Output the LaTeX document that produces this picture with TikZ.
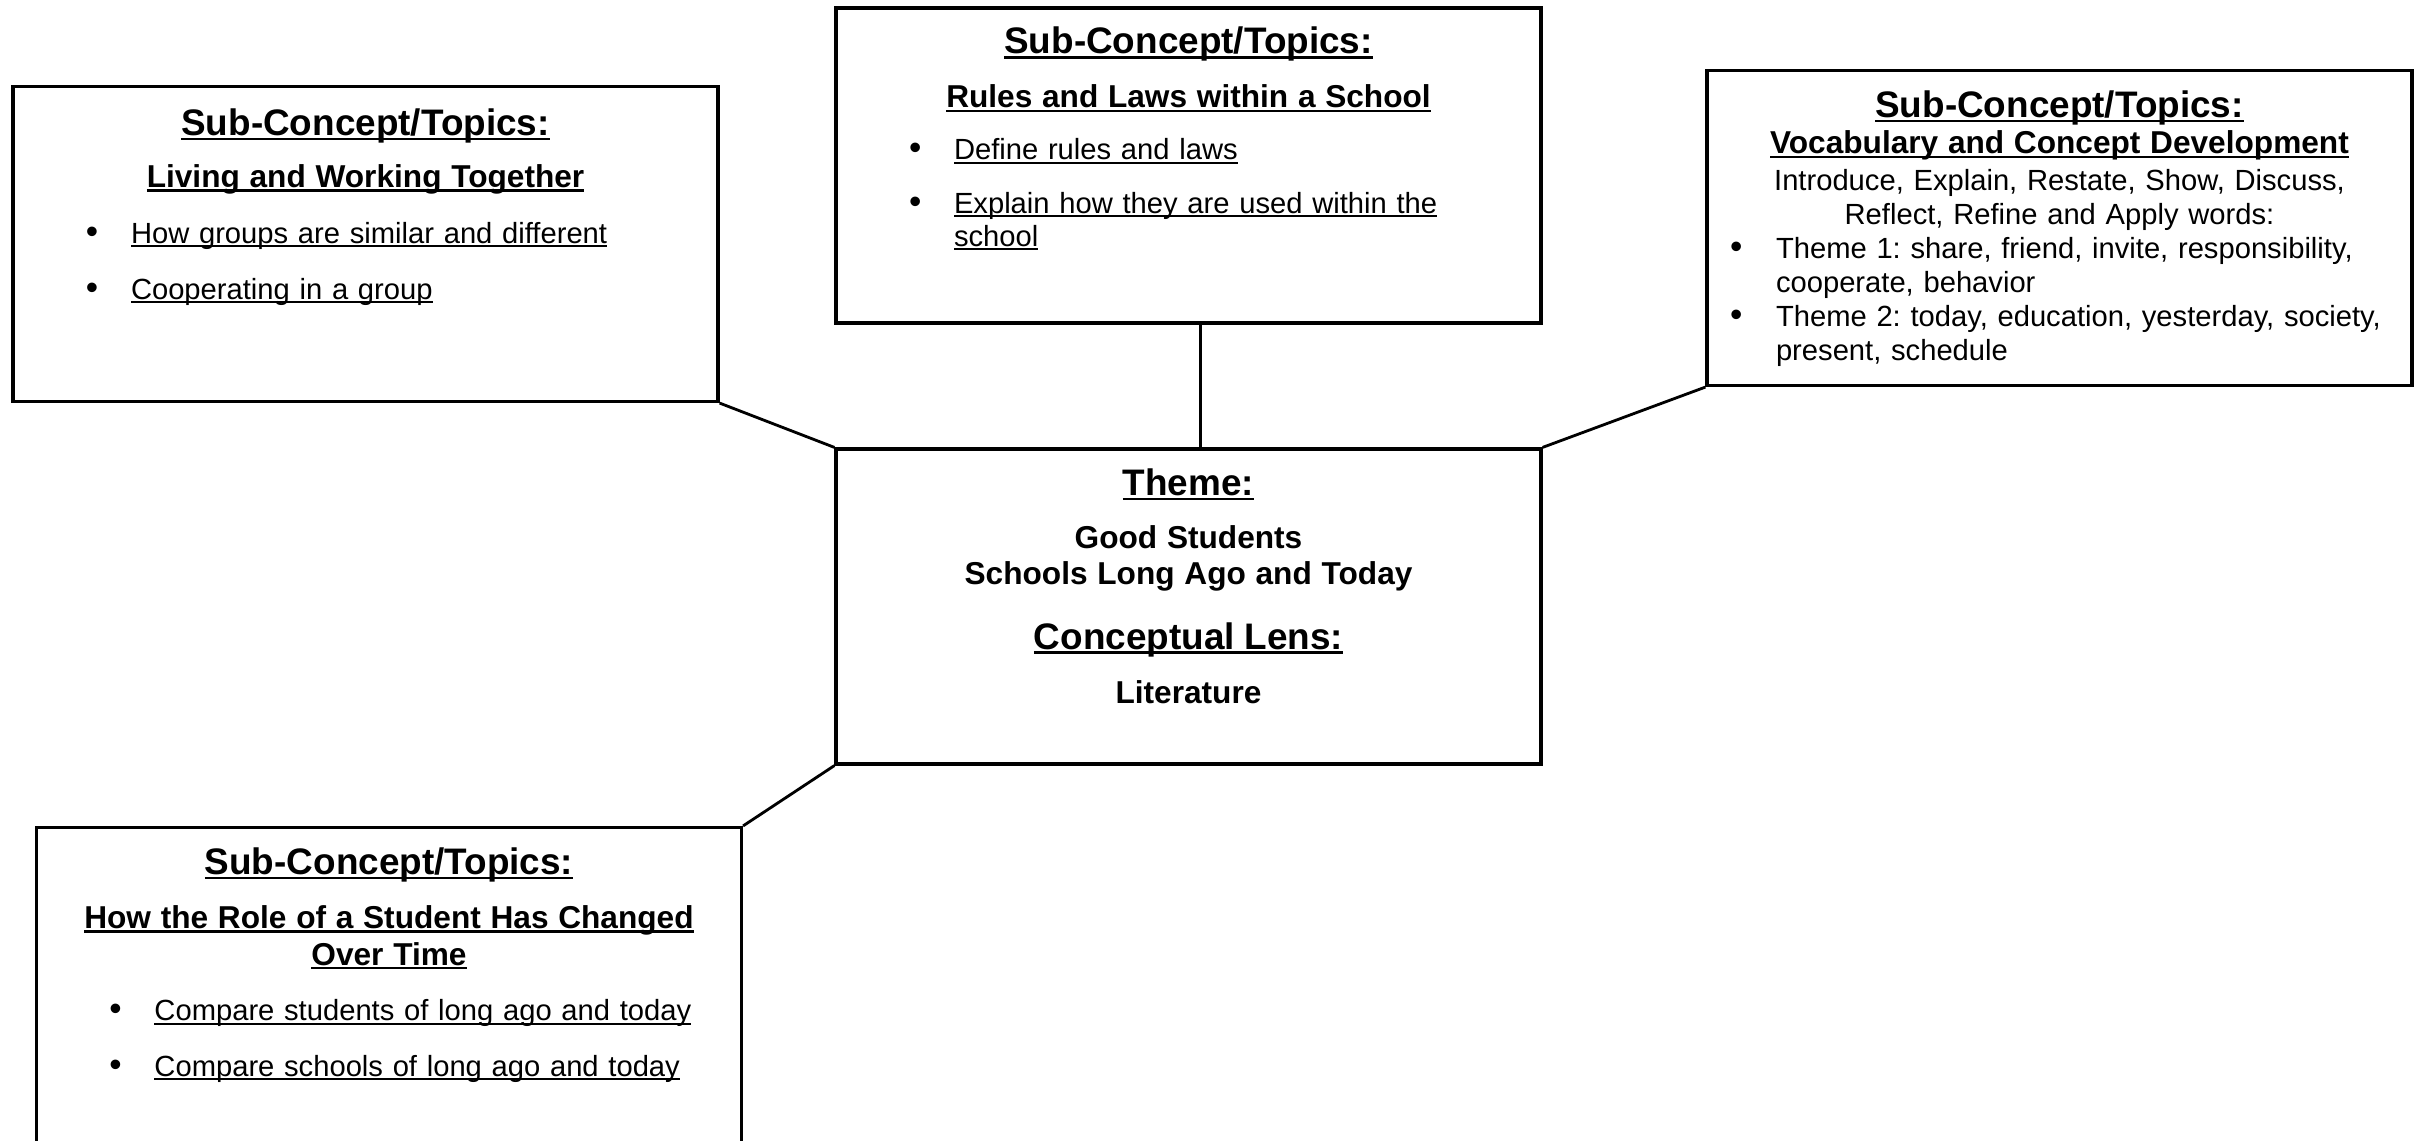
\documentclass[tikz,border=0pt]{standalone}
\usepackage{fontspec}
\setmainfont{Liberation Sans}
\usetikzlibrary{positioning}

\frenchspacing
\setlength{\lineskiplimit}{-20pt}
\def\boxwd{7.05cm}
\newsavebox{\topicbox}
\newcommand{\topicul}[1]{\leavevmode\sbox{\topicbox}{#1}\rlap{\rule[-0.13em]{\wd\topicbox}{0.07em}}\usebox{\topicbox}}
\newcommand{\topichead}[1]{{\fontsize{10.5}{9.3}\selectfont\bfseries\rule{0pt}{8pt}\topicul{#1}}}
\newcommand{\topicsub}[1]{{\fontsize{9}{9.3}\selectfont\bfseries\topicul{#1}}}
\newcommand{\topicbold}[1]{{\fontsize{9}{9.3}\selectfont\bfseries #1}}
\newcommand{\topicdot}{{\fontsize{10}{9.3}\selectfont\textbullet}}
\newcommand{\topicitem}[1]{\makebox[\boxwd][l]{\hspace{0.73cm}\makebox[0.45cm][l]{\topicdot}\topicul{#1}}}
\newcommand{\topiccont}[1]{\makebox[\boxwd][l]{\hspace{1.18cm}\topicul{#1}}}
\newcommand{\vocabitem}[1]{\makebox[\boxwd][l]{\hspace{0.23cm}\makebox[0.46cm][l]{\topicdot}#1}}
\newcommand{\vocabcont}[1]{\makebox[\boxwd][l]{\hspace{0.69cm}#1}}

\begin{document}
\begin{tikzpicture}[
        topic/.style={rectangle, draw, line width=0.9pt, minimum width=7.05cm, minimum height=3.15cm, inner sep=0pt},
        topictext/.style={text width=7.05cm, align=center, inner sep=0pt, font=\fontsize{8.3}{9.3}\selectfont},
        link/.style={line width=0.8pt}
    ]
\useasboundingbox (0,0) rectangle (24.24,-11.41);

% Boxes
        \node[topic] (living) at (3.655,-2.44) {};
        \node[topic] (rules) at (11.885,-1.655) {};
        \node[topic] (vocab) at (20.595,-2.28) {};
        \node[topic] (theme) at (11.885,-6.065) {};
        \node[topic, minimum height=3.2cm] (role) at (3.89,-9.875) {};

% Texts
        \node[topictext, below=6.2pt of living.north] (livingtxt) {
            \topichead{Sub-Concept/Topics:}\\[5.5pt]
            \topicsub{Living and Working Together}\\[6.6pt]
            \topicitem{How groups are similar and different}\\[6.6pt]
            \topicitem{Cooperating in a group}};
        \node[topictext, below=5.3pt of rules.north] (rulestxt) {
            \topichead{Sub-Concept/Topics:}\\[6pt]
            \topicsub{Rules and Laws within a School}\\[5.6pt]
            \topicitem{Define rules and laws}\\[5.9pt]
            \topicitem{Explain how they are used within the}\\
            \topiccont{school}};
        \node[topictext, below=5.6pt of vocab.north] (vocabtxt) {
            \topichead{Sub-Concept/Topics:}\\[1.1pt]
            \topicsub{Vocabulary and Concept Development}\\[1pt]
            Introduce, Explain, Restate, Show, Discuss,\\[0.4pt]
            Reflect, Refine and Apply words:\\[0.4pt]
            \vocabitem{Theme 1: share, friend, invite, responsibility,}\\[0.4pt]
            \vocabcont{cooperate, behavior}\\[0.4pt]
            \vocabitem{Theme 2: today, education, yesterday, society,}\\[0.4pt]
            \vocabcont{present, schedule}};
        \node[topictext, below=5.5pt of theme.north] (themetxt) {
            \topichead{Theme:}\\[5.8pt]
            \topicbold{Good Students}\\[0.9pt]
            \topicbold{Schools Long Ago and Today}\\[7.5pt]
            \topichead{Conceptual Lens:}\\[6.1pt]
            \topicbold{Literature}};
        \node[topictext, below=5.6pt of role.north] (roletxt) {
            \topichead{Sub-Concept/Topics:}\\[6.1pt]
            \topicsub{How the Role of a Student Has Changed}\\[1.1pt]
            \topicsub{Over Time}\\[6.6pt]
            \topicitem{Compare students of long ago and today}\\[6.4pt]
            \topicitem{Compare schools of long ago and today}};

% Links
        \draw[link] (living.south east) -- (theme.north west);
        \draw[link] ([xshift=0.12cm]rules.south) -- ([xshift=0.12cm]theme.north);
        \draw[link] (vocab.south west) -- (theme.north east);
        \draw[link] (theme.south west) -- (role.north east);
    \end{tikzpicture}
\end{document}
